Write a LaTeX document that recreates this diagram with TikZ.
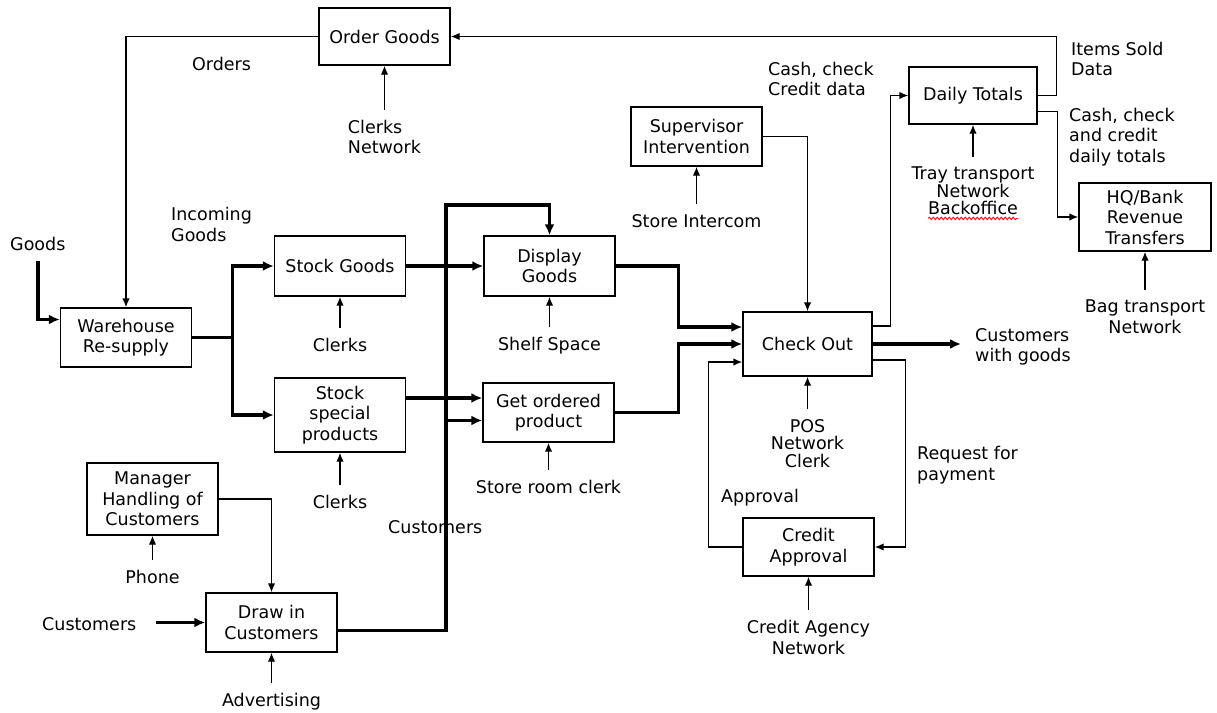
\documentclass[tikz,border=0pt]{standalone}
\usepackage{fontspec}
\setmainfont{DejaVu Sans}
\usetikzlibrary{arrows.meta,calc,decorations.pathmorphing}

\begin{document}
\begin{tikzpicture}[x=1pt,y=-1pt,
    font=\fontsize{17.5}{20.5}\selectfont,
    proc_box/.style={
           rectangle,
           draw,
           line width=1.4pt,
           minimum width=131pt,
           minimum height=59pt,
           inner sep=2pt,
           align=center},
    txt/.style={inner sep=2pt, align=left},
    tight/.style={font=\fontsize{17.5}{17.5}\selectfont},
    flow_arrow/.style={-{Latex[length=9pt,width=7.5pt]}, line width=1.4pt},
    main_flow/.style={-{Latex[length=11pt,width=10pt]}, line width=3.4pt},
    ctrl_arrow/.style={flow_arrow, shorten <=8pt}]

  \useasboundingbox (0,0) rectangle (1217,712);

  % activities
  \path (384.5,36.5) node(og) [proc_box,minimum height=57pt] {Order Goods}
  (696.5,136.5) node(sup) [proc_box] {Supervisor\\Intervention}
  (973,95.5) node(dt) [proc_box,minimum width=128pt,minimum height=57pt] {Daily Totals}
  (1145,217) node(hq) [proc_box,minimum width=132pt,minimum height=68pt] {HQ/Bank\\Revenue\\Transfers}
  (126,337.5) node(wh) [proc_box] {Warehouse\\Re-supply}
  (340,266) node(sg) [proc_box,minimum height=60pt] {Stock Goods}
  (340,415) node(ssp) [proc_box,minimum height=74pt] {Stock\\special\\products}
  (549.5,266) node(dg) [proc_box,minimum height=60pt] {Display\\Goods}
  (548.5,412.5) node(gop) [proc_box] {Get ordered\\product}
  (807.5,344) node(co) [proc_box,minimum width=129pt,minimum height=64pt] {Check Out}
  (808.5,547) node(ca) [proc_box,minimum height=58pt] {Credit\\Approval}
  (152.5,499) node(mh) [proc_box,minimum height=72pt] {Manager\\Handling of\\Customers}
  (271.5,622.5) node(dc) [proc_box] {Draw in\\Customers};

  % mechanisms
  \path (384.5,118) node(clkn) [txt,anchor=north] {Clerks\\Network}
  (340,336) node(clk1) [txt,anchor=north] {Clerks}
  (340,493) node(clk2) [txt,anchor=north] {Clerks}
  (549.5,335) node(shelf) [txt,anchor=north] {Shelf Space}
  (548.5,478) node(sroom) [txt,anchor=north] {Store room clerk}
  (152.5,568) node(phone) [txt,anchor=north] {Phone}
  (271.5,691) node(adv) [txt,anchor=north] {Advertising}
  (696.5,212) node(icom) [txt,anchor=north] {Store Intercom}
  (807.5,417) node(pos) [txt,tight,anchor=north,align=center] {POS\\Network\\Clerk}
  (808.5,618) node(cagy) [txt,anchor=north,align=center] {Credit Agency\\Network}
  (973,165) node(tray) [txt,tight,anchor=north,align=center] {Tray transport\\Network\\Backoffice}
  (1145,298) node(bag) [txt,anchor=north,align=center] {Bag transport\\Network};

  % flow labels
  \path (190,55) node(ords) [txt,anchor=north west] {Orders}
  (169,205) node(inc) [txt,anchor=north west] {Incoming\\Goods}
  (8,235) node(gd) [txt,anchor=north west] {Goods}
  (766,60) node(ccd) [txt,anchor=north west] {Cash, check\\Credit data}
  (1069,40) node(isd) [txt,anchor=north west] {Items Sold\\Data}
  (1067,106) node(cct) [txt,anchor=north west] {Cash, check\\and credit\\daily totals}
  (973,326) node(cwg) [txt,anchor=north west] {Customers\\with goods}
  (915,444) node(rfp) [txt,anchor=north west] {Request for\\payment}
  (719,487) node(appr) [txt,anchor=north west] {Approval}
  (386,518) node(cmid) [txt,anchor=north west] {Customers}
  (40,615) node(cust) [txt,anchor=north west] {Customers};

  \draw[red,line width=0.8pt,decorate,decoration={snake,amplitude=1.3pt,segment length=4pt}]
    ([xshift=-45pt,yshift=-1pt]tray.south) -- ([xshift=45pt,yshift=-1pt]tray.south);

  % goods and customers
  \draw[main_flow,shorten <=8pt] (gd.south) |- ([yshift=18pt]wh.west);
  \draw[main_flow] (wh.east) -- ++(40,0) coordinate (fork) |- (sg.west);
  \draw[main_flow] (fork) |- (ssp.west);
  \draw[main_flow] (sg.east) -- (dg.west);
  \draw[main_flow] ([yshift=17pt]ssp.east) -- ([yshift=17pt]ssp.east -| gop.west);
  \coordinate (bus) at (446,205);
  \draw[main_flow] ([yshift=-8pt]dc.east) -| (bus) -| (dg.north);
  \draw[main_flow] ([yshift=-8pt]gop.west -| bus) -- ([yshift=-8pt]gop.west);
  \draw[main_flow] (dg.east) -- ++(63,0) |- ([yshift=17pt]co.west);
  \draw[main_flow] (gop.east) -- ++(64,0) |- (co.west);
  \draw[main_flow,shorten >=12pt] (co.east) -- (co.east -| cwg.west);
  \draw[main_flow,shorten <=17pt] (dc.west -| cust.east) -- (dc.west);

  % data
  \draw[flow_arrow] (og.west) -| (wh.north);
  \draw[flow_arrow] (dt.east) -- ++(19,0) |- (og.east);
  \draw[flow_arrow] ([yshift=-16pt]dt.east) -- ++(20,0) |- (hq.west);
  \draw[flow_arrow] ([yshift=18pt]co.east) -- ++(18,0) |- (dt.west);
  \draw[flow_arrow] (sup.east) -| (co.north);
  \draw[flow_arrow] ([yshift=-16pt]co.east) -- ++(33,0) |- (ca.east);
  \draw[flow_arrow] (ca.west) -- ++(-34,0) |- ([yshift=-18pt]co.west);
  \draw[flow_arrow] (mh.east) -| (dc.north);

  \path (clkn.north) edge[ctrl_arrow] (og.south)
  (clk1.north) edge[ctrl_arrow] (sg.south)
  (clk2.north) edge[ctrl_arrow] (ssp.south)
  (shelf.north) edge[ctrl_arrow] (dg.south)
  (sroom.north) edge[ctrl_arrow] (gop.south)
  (phone.north) edge[ctrl_arrow] (mh.south)
  (adv.north) edge[ctrl_arrow] (dc.south)
  (icom.north) edge[ctrl_arrow] (sup.south)
  (pos.north) edge[ctrl_arrow] (co.south)
  (cagy.north) edge[ctrl_arrow] (ca.south)
  (tray.north) edge[ctrl_arrow] (dt.south)
  (bag.north) edge[ctrl_arrow] (hq.south)
  ;

\end{tikzpicture}
\end{document}
